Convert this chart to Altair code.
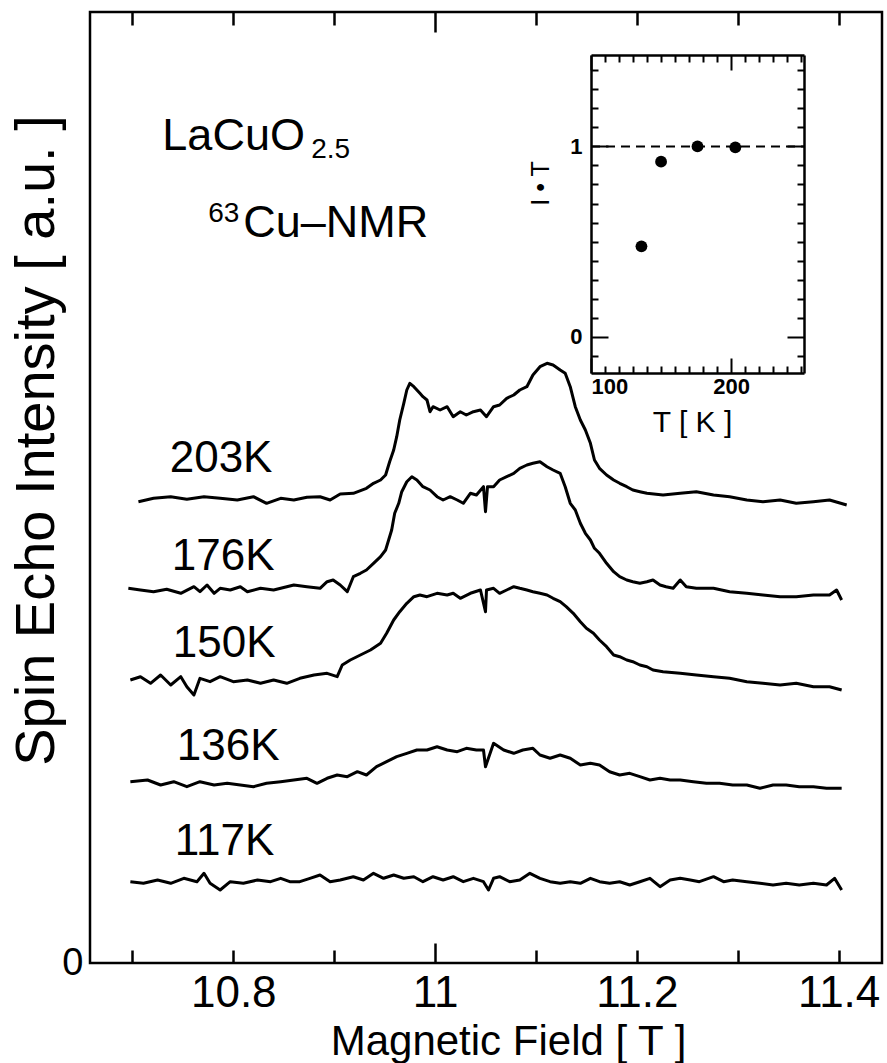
import altair as alt
import pandas as pd

# ---------------- data ----------------
F203 = [10.706, 10.721, 10.738, 10.754, 10.771, 10.787, 10.804, 10.820, 10.833, 10.847,
        10.860, 10.873, 10.886, 10.896, 10.906, 10.919, 10.932, 10.939, 10.946, 10.951,
        10.955, 10.959, 10.962, 10.965, 10.969, 10.972, 10.975, 10.979, 10.982, 10.985,
        10.988, 10.992, 10.995, 10.998, 11.005, 11.012, 11.018, 11.025, 11.031, 11.038,
        11.045, 11.051, 11.058, 11.064, 11.071, 11.078, 11.084, 11.091, 11.097, 11.104,
        11.111, 11.117, 11.124, 11.129, 11.134, 11.139, 11.144, 11.149, 11.154, 11.158,
        11.163, 11.170, 11.177, 11.183, 11.190, 11.196, 11.203, 11.210, 11.226, 11.243,
        11.259, 11.276, 11.292, 11.309, 11.325, 11.342, 11.358, 11.375, 11.391, 11.408]
I203 = [4.613, 4.647, 4.663, 4.637, 4.663, 4.647, 4.630, 4.663, 4.597, 4.647,
        4.630, 4.657, 4.663, 4.630, 4.690, 4.697, 4.747, 4.797, 4.830, 4.880,
        5.013, 5.130, 5.263, 5.430, 5.597, 5.730, 5.797, 5.763, 5.730, 5.697,
        5.663, 5.630, 5.513, 5.563, 5.530, 5.563, 5.463, 5.513, 5.480, 5.513,
        5.530, 5.463, 5.563, 5.580, 5.647, 5.680, 5.730, 5.763, 5.880, 5.963,
        5.997, 5.980, 5.930, 5.897, 5.763, 5.563, 5.430, 5.330, 5.197, 5.030,
        4.947, 4.880, 4.830, 4.797, 4.763, 4.730, 4.713, 4.697, 4.680, 4.697,
        4.713, 4.680, 4.663, 4.630, 4.613, 4.630, 4.597, 4.613, 4.630, 4.580]

F176 = [10.696, 10.708, 10.721, 10.734, 10.748, 10.761, 10.767, 10.774, 10.781, 10.787,
        10.797, 10.807, 10.814, 10.827, 10.840, 10.853, 10.860, 10.873, 10.886, 10.893,
        10.899, 10.906, 10.913, 10.919, 10.926, 10.932, 10.939, 10.946, 10.951, 10.954,
        10.957, 10.960, 10.964, 10.967, 10.972, 10.977, 10.982, 10.988, 10.995, 11.002,
        11.008, 11.015, 11.022, 11.028, 11.035, 11.041, 11.048, 11.050, 11.052, 11.058,
        11.064, 11.071, 11.078, 11.084, 11.091, 11.097, 11.104, 11.111, 11.117, 11.124,
        11.129, 11.134, 11.139, 11.144, 11.149, 11.154, 11.158, 11.163, 11.170, 11.177,
        11.183, 11.190, 11.196, 11.203, 11.210, 11.216, 11.223, 11.229, 11.236, 11.243,
        11.249, 11.259, 11.276, 11.292, 11.309, 11.325, 11.342, 11.358, 11.375, 11.391,
        11.398, 11.403]
I176 = [3.747, 3.730, 3.713, 3.737, 3.697, 3.763, 3.713, 3.780, 3.697, 3.747,
        3.730, 3.763, 3.713, 3.747, 3.730, 3.763, 3.780, 3.763, 3.747, 3.813,
        3.830, 3.780, 3.713, 3.863, 3.897, 3.930, 3.997, 4.063, 4.130, 4.230,
        4.330, 4.497, 4.597, 4.713, 4.813, 4.863, 4.830, 4.763, 4.730, 4.663,
        4.630, 4.663, 4.630, 4.597, 4.697, 4.680, 4.763, 4.513, 4.763, 4.763,
        4.830, 4.863, 4.897, 4.947, 4.980, 4.997, 5.013, 4.963, 4.930, 4.897,
        4.763, 4.597, 4.530, 4.397, 4.297, 4.230, 4.147, 4.097, 3.997, 3.913,
        3.863, 3.830, 3.813, 3.797, 3.813, 3.830, 3.780, 3.763, 3.747, 3.830,
        3.763, 3.747, 3.747, 3.713, 3.697, 3.680, 3.663, 3.663, 3.680, 3.680,
        3.730, 3.630]

F150 = [10.698, 10.708, 10.718, 10.728, 10.738, 10.748, 10.754, 10.761, 10.767, 10.777,
        10.787, 10.800, 10.814, 10.827, 10.840, 10.853, 10.866, 10.880, 10.893, 10.903,
        10.908, 10.916, 10.926, 10.936, 10.946, 10.952, 10.959, 10.965, 10.972, 10.979,
        10.985, 10.992, 11.002, 11.012, 11.018, 11.025, 11.035, 11.045, 11.050, 11.051,
        11.058, 11.064, 11.071, 11.078, 11.084, 11.091, 11.097, 11.104, 11.111, 11.117,
        11.124, 11.130, 11.137, 11.144, 11.150, 11.157, 11.163, 11.170, 11.177, 11.183,
        11.190, 11.196, 11.203, 11.210, 11.216, 11.226, 11.243, 11.259, 11.276, 11.292,
        11.309, 11.325, 11.342, 11.358, 11.375, 11.391, 11.403]
I150 = [2.830, 2.863, 2.797, 2.880, 2.780, 2.863, 2.763, 2.680, 2.847, 2.813,
        2.863, 2.813, 2.830, 2.797, 2.830, 2.797, 2.847, 2.880, 2.897, 2.863,
        2.980, 3.030, 3.080, 3.130, 3.197, 3.297, 3.430, 3.513, 3.597, 3.663,
        3.680, 3.663, 3.697, 3.680, 3.697, 3.647, 3.697, 3.730, 3.513, 3.730,
        3.747, 3.697, 3.730, 3.763, 3.747, 3.730, 3.713, 3.697, 3.680, 3.647,
        3.613, 3.563, 3.497, 3.413, 3.347, 3.297, 3.230, 3.163, 3.080, 3.063,
        3.030, 3.013, 2.980, 2.963, 2.930, 2.913, 2.897, 2.880, 2.863, 2.847,
        2.813, 2.797, 2.780, 2.797, 2.763, 2.763, 2.730]

F136 = [10.698, 10.715, 10.728, 10.741, 10.754, 10.767, 10.781, 10.794, 10.807, 10.820,
        10.833, 10.847, 10.860, 10.873, 10.883, 10.893, 10.903, 10.913, 10.923, 10.932,
        10.942, 10.952, 10.962, 10.972, 10.982, 10.992, 11.002, 11.012, 11.022, 11.031,
        11.041, 11.048, 11.050, 11.058, 11.068, 11.078, 11.087, 11.097, 11.104, 11.114,
        11.124, 11.134, 11.144, 11.154, 11.163, 11.173, 11.183, 11.193, 11.203, 11.213,
        11.223, 11.233, 11.243, 11.256, 11.269, 11.282, 11.295, 11.309, 11.322, 11.335,
        11.348, 11.361, 11.375, 11.388, 11.403]
I136 = [1.813, 1.830, 1.780, 1.813, 1.763, 1.813, 1.780, 1.797, 1.780, 1.763,
        1.797, 1.813, 1.830, 1.847, 1.797, 1.847, 1.880, 1.863, 1.913, 1.880,
        1.963, 2.013, 2.063, 2.097, 2.130, 2.130, 2.163, 2.130, 2.113, 2.147,
        2.130, 2.130, 1.963, 2.197, 2.130, 2.097, 2.130, 2.147, 2.080, 2.047,
        2.080, 2.047, 1.980, 1.997, 1.980, 1.913, 1.880, 1.897, 1.863, 1.830,
        1.847, 1.830, 1.830, 1.813, 1.797, 1.797, 1.780, 1.780, 1.747, 1.780,
        1.780, 1.763, 1.763, 1.747, 1.747]

F117 = [10.698, 10.711, 10.725, 10.738, 10.751, 10.764, 10.771, 10.777, 10.787, 10.797,
        10.810, 10.824, 10.837, 10.847, 10.856, 10.866, 10.876, 10.886, 10.896, 10.906,
        10.919, 10.929, 10.939, 10.949, 10.959, 10.969, 10.979, 10.988, 10.998, 11.008,
        11.018, 11.028, 11.038, 11.048, 11.053, 11.058, 11.064, 11.074, 11.084, 11.094,
        11.104, 11.114, 11.124, 11.134, 11.144, 11.154, 11.163, 11.173, 11.183, 11.193,
        11.203, 11.213, 11.223, 11.233, 11.243, 11.253, 11.262, 11.276, 11.286, 11.295,
        11.309, 11.322, 11.335, 11.348, 11.361, 11.375, 11.388, 11.396, 11.403]
I117 = [0.813, 0.797, 0.830, 0.797, 0.847, 0.813, 0.897, 0.797, 0.730, 0.813,
        0.797, 0.830, 0.813, 0.847, 0.813, 0.813, 0.847, 0.880, 0.813, 0.830,
        0.863, 0.830, 0.897, 0.847, 0.880, 0.847, 0.863, 0.813, 0.863, 0.830,
        0.863, 0.813, 0.847, 0.813, 0.730, 0.847, 0.863, 0.813, 0.830, 0.897,
        0.847, 0.813, 0.797, 0.813, 0.797, 0.847, 0.813, 0.797, 0.813, 0.780,
        0.813, 0.847, 0.763, 0.830, 0.847, 0.830, 0.813, 0.863, 0.813, 0.830,
        0.813, 0.797, 0.780, 0.797, 0.780, 0.797, 0.780, 0.847, 0.730]

SERIES = ["203K", "176K", "150K", "136K", "117K"]
FIELDS = [F203, F176, F150, F136, F117]
INTENS = [I203, I176, I150, I136, I117]

# curve labels (data coordinates of the label's left/baseline)
LABEL_FIELD = [10.737, 10.739, 10.740, 10.744, 10.742]
LABEL_INT = [4.91, 3.93, 3.06, 2.03, 1.08]

# header text (data coordinates)
HEAD_BIG_TEXT = ["LaCuO", "Cu\u2013NMR"]
HEAD_BIG_F = [10.7297, 10.8099]
HEAD_BIG_I = [8.13, 7.26]
HEAD_SMALL_TEXT = ["2.5", "63"]
HEAD_SMALL_F = [10.8772, 10.7752]
HEAD_SMALL_I = [8.05, 7.41]

# inset: I*T vs T
INSET_T = [136, 150, 176, 203]
INSET_IT = [0.475, 0.92, 1.0, 0.995]
REF_T = [100, 252]
REF_IT = [1.0, 1.0]

X_DOMAIN = [10.658, 11.443]
Y_DOMAIN = [0.0, 9.51]
X_TICKS = [10.7, 10.8, 10.9, 11.0, 11.1, 11.2, 11.3, 11.4]
X_LABELS = [10.8, 11.0, 11.2, 11.4]
IN_X_DOMAIN = [100, 252]
IN_Y_DOMAIN = [-0.19, 1.48]
IN_X_TICKS = [100 + 10 * i for i in range(16)]
IN_Y_TICKS = [round(-0.1 + 0.1 * i, 1) for i in range(16)]

# ---------------- layout ----------------
W, H = 792, 951
IN_LEFT, IN_RIGHT, IN_TOP, IN_BOTTOM = 501, 714, 43, 361
FONT = "Liberation Sans"

rows = []
for name, fs, vs in zip(SERIES, FIELDS, INTENS):
    for f, v in zip(fs, vs):
        rows.append({"series": name, "field": f, "intensity": v})
spectra = pd.DataFrame(rows)
labels_df = pd.DataFrame({"text": SERIES, "field": LABEL_FIELD, "intensity": LABEL_INT})
head_big = pd.DataFrame({"text": HEAD_BIG_TEXT, "field": HEAD_BIG_F, "intensity": HEAD_BIG_I})
head_small = pd.DataFrame({"text": HEAD_SMALL_TEXT, "field": HEAD_SMALL_F, "intensity": HEAD_SMALL_I})
inset_df = pd.DataFrame({"T": INSET_T, "IT": INSET_IT})
ref_df = pd.DataFrame({"T": REF_T, "IT": REF_IT})


def xs():
    return alt.Scale(domain=X_DOMAIN, nice=False, zero=False)


def ys():
    return alt.Scale(domain=Y_DOMAIN, nice=False, zero=False)


def ixs():
    return alt.Scale(domain=IN_X_DOMAIN, range=[IN_LEFT, IN_RIGHT], nice=False, zero=False)


def iys():
    return alt.Scale(domain=IN_Y_DOMAIN, range=[IN_BOTTOM, IN_TOP], nice=False, zero=False)


main_tick = {"condition": {"test": "abs(datum.value - 11) < 0.001", "value": 20}, "value": 13}
in_x_tick = {"condition": {"test": "datum.value == 100 || datum.value == 200", "value": 15}, "value": 7}
in_y_tick = {"condition": {"test": "abs(datum.value) < 0.001 || abs(datum.value - 1) < 0.001", "value": 17}, "value": 7}


def tick_axis(orient, offset, values, size):
    return alt.Axis(orient=orient, offset=offset, values=values, labels=False, title=None,
                    grid=False, domain=False, ticks=True, tickSize=size, tickWidth=2.5,
                    tickColor="black")


def frame_axis(orient, offset, values, size):
    return alt.Axis(orient=orient, offset=offset, values=values, labels=False, title=None,
                    grid=False, domain=True, domainColor="black", domainWidth=2.5,
                    ticks=True, tickSize=size, tickWidth=2, tickColor="black")


curves = alt.Chart(spectra).mark_line(color="black", strokeWidth=3, strokeJoin="round").encode(
    x=alt.X("field:Q", scale=xs(), axis=alt.Axis(
        orient="bottom", values=X_LABELS, ticks=False, tickSize=0, domain=False, grid=False,
        labelExpr="abs(datum.value - 11) < 0.001 ? '11' : format(datum.value, '.1f')",
        labelFont=FONT, labelFontSize=44, labelColor="black", labelBaseline="alphabetic",
        labelPadding=43, labelOverlap=False,
        title="Magnetic Field [ T ]", titleFont=FONT, titleFontSize=42, titleFontWeight="normal",
        titleColor="black", titleX=418, titleY=91, titleBaseline="alphabetic")),
    y=alt.Y("intensity:Q", scale=ys(), axis=alt.Axis(
        orient="left", values=[0], ticks=False, tickSize=0, domain=False, grid=False,
        labelFont=FONT, labelFontSize=38, labelColor="black", labelPadding=7,
        title="Spin Echo Intensity [ a.u. ]", titleFont=FONT, titleFontSize=56,
        titleFontWeight="normal", titleColor="black", titleAngle=270, titleAlign="center",
        titleBaseline="alphabetic", titleX=-37, titleY=428)),
    detail="series:N",
)

curve_labels = alt.Chart(labels_df).mark_text(
    align="left", baseline="alphabetic", font=FONT, fontSize=44, color="black"
).encode(
    x=alt.X("field:Q", scale=xs(), axis=tick_axis("top", -H, X_TICKS, main_tick)),
    y=alt.Y("intensity:Q", scale=ys(), axis=None),
    text="text:N",
)

head_big_layer = alt.Chart(head_big).mark_text(
    align="left", baseline="alphabetic", font=FONT, fontSize=45, color="black"
).encode(
    x=alt.X("field:Q", scale=xs(), axis=tick_axis("bottom", -H, X_TICKS, main_tick)),
    y=alt.Y("intensity:Q", scale=ys(), axis=None),
    text="text:N",
)

head_small_layer = alt.Chart(head_small).mark_text(
    align="left", baseline="alphabetic", font=FONT, fontSize=28, color="black"
).encode(
    x=alt.X("field:Q", scale=xs(), axis=None),
    y=alt.Y("intensity:Q", scale=ys(), axis=None),
    text="text:N",
)

ref_line = alt.Chart(ref_df).mark_line(color="black", strokeWidth=2, strokeDash=[9, 6]).encode(
    x=alt.X("T:Q", scale=ixs(), axis=frame_axis("top", -IN_BOTTOM, IN_X_TICKS, in_x_tick)),
    y=alt.Y("IT:Q", scale=iys(), axis=frame_axis("right", -(W - IN_LEFT), IN_Y_TICKS, in_y_tick)),
)

inset_pts = alt.Chart(inset_df).mark_circle(color="black", size=140, opacity=1).encode(
    x=alt.X("T:Q", scale=ixs(), axis=alt.Axis(
        orient="bottom", offset=-(H - IN_BOTTOM), values=[100, 200], ticks=False, tickSize=0,
        domain=False, grid=False, labelFont=FONT, labelFontSize=22, labelFontWeight="bold",
        labelColor="black", labelPadding=3,
        title="T [ K ]", titleFont=FONT, titleFontSize=30, titleFontWeight="normal",
        titleColor="black", titlePadding=10, titleX=602)),
    y=alt.Y("IT:Q", scale=iys(), axis=alt.Axis(
        orient="left", offset=-IN_LEFT, values=[0, 1], ticks=False, tickSize=0, domain=False,
        grid=False, labelFont=FONT, labelFontSize=22, labelFontWeight="bold",
        labelColor="black", labelPadding=9,
        title="I \u2022 T", titleFont=FONT, titleFontSize=25, titleFontWeight="normal",
        titleColor="black", titlePadding=16, titleY=171)),
)

inset_frame = alt.Chart(inset_df).mark_point(opacity=0).encode(
    x=alt.X("T:Q", scale=ixs(), axis=frame_axis("bottom", -(H - IN_TOP), IN_X_TICKS, in_x_tick)),
    y=alt.Y("IT:Q", scale=iys(), axis=frame_axis("left", -IN_RIGHT, IN_Y_TICKS, in_y_tick)),
)

chart = alt.layer(
    curves, curve_labels, head_big_layer, head_small_layer, ref_line, inset_frame, inset_pts
).resolve_scale(
    x="independent", y="independent"
).properties(
    width=W, height=H,
    padding={"left": 90, "top": 12, "right": 5, "bottom": 100},
    autosize=alt.AutoSizeParams(type="none"),
    background="white",
).configure_view(
    stroke="black", strokeWidth=2.5
)

chart.save("out.html", embed_options={"renderer": "svg", "actions": False})
